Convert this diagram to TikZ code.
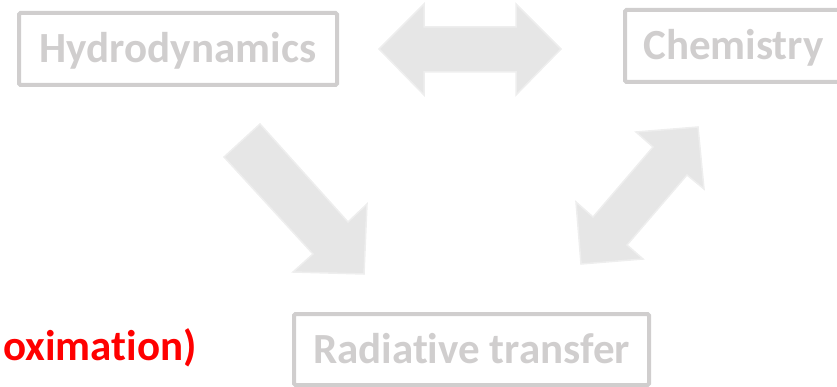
\documentclass[tikz,border=0pt]{standalone}
\usepackage{fontspec}
\setmainfont{Carlito}[Ligatures={NoCommon,NoRare,NoContextual}]
\definecolor{boxgray}{RGB}{208,206,206}
\definecolor{arrowfill}{RGB}{230,230,230}
\definecolor{arrowedge}{RGB}{238,238,238}
\definecolor{pptred}{RGB}{255,0,0}
\tikzset{
  blockbox/.style={draw=boxgray, line width=4pt, rounded corners=1.5pt,
    text=boxgray, font=\fontsize{43}{50}\selectfont\bfseries,
    text height=35pt, text depth=8pt, inner sep=0pt, minimum height=72pt},
  blockarrow/.style={fill=arrowfill, draw=arrowedge, line width=1.5pt, line join=miter},
  redlabel/.style={text=pptred, font=\fontsize{43}{50}\selectfont\bfseries, inner sep=0pt}
}
\begin{document}
\begin{tikzpicture}[x=1pt,y=-1pt]
\useasboundingbox (0,0) rectangle (837,387);
\clip (0,0) rectangle (837,387);
% boxes
\node[blockbox, minimum width=318pt] (hydro) at (178,49) {Hydrodynamics};
\node[blockbox, minimum width=217pt] (chem) at (733.5,46) {Chemistry};
\node[blockbox, minimum width=355pt, minimum height=71pt] (rad) at (471.5,349.5) {Radiative transfer};
% red label (cut by the left edge)
\node[redlabel, anchor=base east] (approx) at (197,360) {oximation)};
% horizontal double arrow
\draw[blockarrow] (379,49) -- (424,4) -- (424,27) -- (516,27) -- (516,4) -- (561,49)
  -- (516,95) -- (516,72) -- (424,72) -- (424,95) -- cycle;
% single diagonal arrow
\draw[blockarrow] (260,124) -- (348,222) -- (367,204) -- (364,274) -- (293,272)
  -- (313,254) -- (224,157) -- cycle;
% diagonal double arrow
\draw[blockarrow] (698,127) -- (704,189) -- (687,175) -- (627,245) -- (643,259)
  -- (581,264) -- (576,202) -- (593,217) -- (653,147) -- (636,132) -- cycle;
\end{tikzpicture}
\end{document}
